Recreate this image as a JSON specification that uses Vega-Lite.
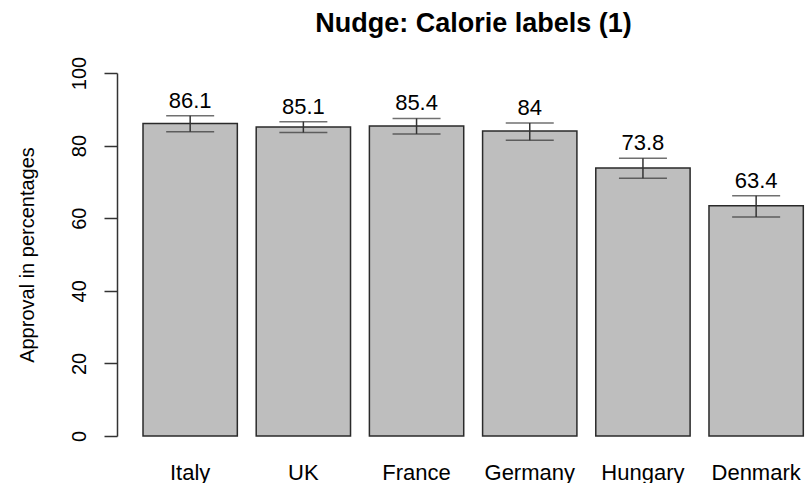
{
  "$schema": "https://vega.github.io/schema/vega-lite/v6.json",
  "autosize": "none",
  "width": 689,
  "height": 363,
  "padding": {"left": 117, "top": 73, "right": 0, "bottom": 47},
  "background": "white",
  "config": {
    "view": {"stroke": null},
    "font": "Liberation Sans"
  },
  "title": {
    "text": "Nudge: Calorie labels (1)",
    "fontSize": 27,
    "fontWeight": "bold",
    "font": "Liberation Sans",
    "color": "#000000",
    "anchor": "middle",
    "baseline": "alphabetic",
    "dx": 12,
    "offset": -3
  },
  "data": {
    "values": [
      {"country": "Italy", "approval": 86.1, "lower": 83.8, "upper": 88.2, "label": "86.1"},
      {"country": "UK", "approval": 85.1, "lower": 83.6, "upper": 86.6, "label": "85.1"},
      {"country": "France", "approval": 85.4, "lower": 83.2, "upper": 87.5, "label": "85.4"},
      {"country": "Germany", "approval": 84, "lower": 81.5, "upper": 86.2, "label": "84"},
      {"country": "Hungary", "approval": 73.8, "lower": 71.0, "upper": 76.5, "label": "73.8"},
      {"country": "Denmark", "approval": 63.4, "lower": 60.3, "upper": 66.2, "label": "63.4"}
    ]
  },
  "encoding": {
    "x": {
      "field": "country",
      "type": "nominal",
      "sort": null,
      "scale": {"paddingInner": 0.1667, "paddingOuter": 0.1268, "align": 0.906},
      "axis": {
        "title": null,
        "domain": false,
        "ticks": false,
        "tickSize": 0,
        "labelAngle": 0,
        "labelFontSize": 22,
        "labelFont": "Liberation Sans",
        "labelColor": "#000000",
        "labelBaseline": "alphabetic",
        "labelPadding": 43
      }
    }
  },
  "layer": [
    {
      "mark": {"type": "bar", "fill": "#bebebe", "stroke": "#2a2a2a", "strokeWidth": 1.5},
      "encoding": {
        "y": {
          "field": "approval",
          "type": "quantitative",
          "scale": {"domain": [0, 100], "nice": false},
          "axis": {
            "title": "Approval in percentages",
            "values": [0, 20, 40, 60, 80, 100],
            "grid": false,
            "domainColor": "#333333",
            "domainWidth": 1.5,
            "tickColor": "#333333",
            "tickWidth": 1.5,
            "tickSize": 13,
            "labelAngle": 270,
            "labelAlign": "center",
            "labelBaseline": "alphabetic",
            "labelPadding": 19,
            "labelFontSize": 20,
            "labelFont": "Liberation Sans",
            "labelColor": "#000000",
            "labelFlush": false,
            "labelOverlap": false,
            "titleFontSize": 20,
            "titleFont": "Liberation Sans",
            "titleFontWeight": "normal",
            "titleColor": "#000000",
            "titleAngle": 270,
            "titleAlign": "center",
            "titleBaseline": "alphabetic",
            "titleX": -84,
            "titleY": 181.5
          }
        }
      }
    },
    {
      "mark": {"type": "rule", "color": "#333333", "strokeWidth": 1.5},
      "encoding": {
        "y": {"field": "lower", "type": "quantitative"},
        "y2": {"field": "upper"}
      }
    },
    {
      "mark": {"type": "tick", "color": "#333333", "thickness": 1.5, "size": 48, "orient": "horizontal"},
      "encoding": {
        "y": {"field": "lower", "type": "quantitative"}
      }
    },
    {
      "mark": {"type": "tick", "color": "#333333", "thickness": 1.5, "size": 48, "orient": "horizontal"},
      "encoding": {
        "y": {"field": "upper", "type": "quantitative"}
      }
    },
    {
      "mark": {"type": "text", "fontSize": 22, "font": "Liberation Sans", "color": "#000000", "baseline": "alphabetic", "dy": -8},
      "encoding": {
        "y": {"field": "upper", "type": "quantitative"},
        "text": {"field": "label"}
      }
    }
  ]
}
